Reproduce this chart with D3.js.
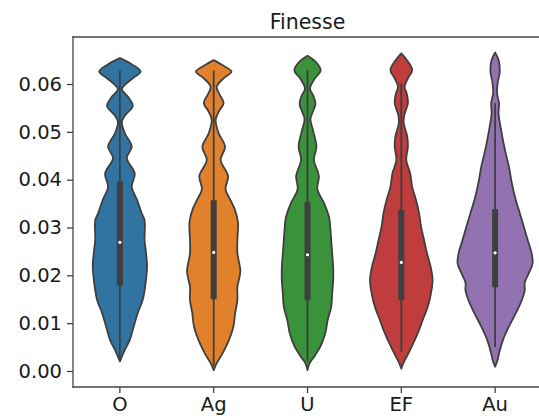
<!DOCTYPE html>
<html>
<head>
<meta charset="utf-8">
<script src="https://cdn.jsdelivr.net/npm/d3@7"></script>
<style>
  html, body { margin: 0; padding: 0; background: #fff; }
  svg { display: block; }
  text { font-family: "DejaVu Sans", sans-serif; fill: #1a1a1a; }
</style>
</head>
<body>
<svg id="chart" width="539" height="416"></svg>
<script>
// ---------- data ----------
const title = "Finesse";
const categories = ["O", "Ag", "U", "EF", "Au"];
const colors = ["#3274a1", "#e1812c", "#3a923a", "#c03d3e", "#9372b2"];
const yTicks = [0.00, 0.01, 0.02, 0.03, 0.04, 0.05, 0.06];

// density profiles: [value, relative density]
const profileO = [[0.0654,0],[0.0640,13],[0.0626,21],[0.0612,13],[0.0598,5],[0.0589,2],[0.0574,8],[0.0554,13],[0.0535,5.5],[0.0521,2],[0.0497,5],[0.0469,12],[0.0445,7],[0.0413,15],[0.0385,12],[0.0357,17.5],[0.0330,22],[0.0315,25],[0.0274,25],[0.0246,26.5],[0.0218,27.5],[0.0176,25.5],[0.0148,23],[0.0121,18],[0.0093,14],[0.0065,10],[0.0044,5],[0.0030,2],[0.0020,0]];
const profileAg = [[0.0650,0],[0.0638,10],[0.0626,18],[0.0612,10],[0.0594,3],[0.0578,6],[0.0560,10],[0.0542,5],[0.0525,2],[0.0497,5],[0.0469,11.5],[0.0441,7],[0.0408,14.5],[0.0380,12],[0.0357,17],[0.0340,21],[0.0312,24.5],[0.0274,24],[0.0246,24],[0.0208,27],[0.0176,24],[0.0148,24],[0.0121,21.7],[0.0093,20],[0.0065,15.5],[0.0037,9],[0.0016,3],[0.0002,0]];
const profileU = [[0.0659,0],[0.0645,9],[0.0628,13.3],[0.0612,7.5],[0.0590,2.5],[0.0575,6],[0.0558,8],[0.0540,5],[0.0527,3],[0.0500,6],[0.0469,9],[0.0441,6.5],[0.0408,11.5],[0.0380,10],[0.0350,17],[0.0320,22],[0.0302,23],[0.0274,24],[0.0246,25],[0.0218,26],[0.0190,26],[0.0162,25],[0.0134,24],[0.0107,20.5],[0.0079,18],[0.0051,13],[0.0030,6.7],[0.0016,2],[0.0002,0]];
const profileEF = [[0.0664,0],[0.0647,6.7],[0.0629,11],[0.0612,6.7],[0.0594,3.3],[0.0580,5.5],[0.0560,6.7],[0.0535,3],[0.0518,2.5],[0.0490,6],[0.0469,6.7],[0.0441,5],[0.0413,9],[0.0385,11],[0.0357,15],[0.0330,18],[0.0302,20],[0.0274,23],[0.0246,26],[0.0218,29.7],[0.0190,31.7],[0.0162,30],[0.0134,26.7],[0.0107,21.7],[0.0079,16.7],[0.0051,10.5],[0.0030,5.5],[0.0016,2],[0.0005,0]];
const profileAu = [[0.0666,0],[0.0650,3.5],[0.0626,4.7],[0.0601,2.5],[0.0580,2],[0.0560,4],[0.0539,3.5],[0.0497,6.7],[0.0462,10],[0.0427,14],[0.0392,17],[0.0357,21],[0.0330,25],[0.0302,29],[0.0274,33],[0.0246,37],[0.0225,38],[0.0204,34],[0.0185,30],[0.0169,30],[0.0148,27],[0.0121,21],[0.0093,14],[0.0065,8],[0.0037,4],[0.0023,2.5],[0.0009,0]];
const profiles = [profileO, profileAg, profileU, profileEF, profileAu];

// inner box statistics
const medians    = [0.0269, 0.0248, 0.0243, 0.0227, 0.0247];
const q1s        = [0.0178, 0.0150, 0.0148, 0.0148, 0.0175];
const q3s        = [0.0396, 0.0357, 0.0354, 0.0337, 0.0338];
const whiskerLow = [0.0020, 0.0010, 0.0020, 0.0040, 0.0050];
const whiskerHigh= [0.0628, 0.0628, 0.0629, 0.0601, 0.0560];

// ---------- layout ----------
const margin = {left: 73, top: 37, right: -3, bottom: 29};
const W = 539, H = 416;
const svg = d3.select("#chart");

const x = d3.scaleBand().domain(categories)
  .range([margin.left, W - margin.right]).padding(0);
const y = d3.scaleLinear().domain([-0.003345, 0.06983])
  .range([H - margin.bottom, margin.top]);

const maxDens = d3.max(profiles, p => d3.max(p, d => d[1]));
const w = d3.scaleLinear().domain([0, maxDens]).range([0, x.bandwidth() * 0.4]);

const edge = "#3f3f3f";

categories.forEach((c, i) => {
  const cx = x(c) + x.bandwidth() / 2;
  const area = d3.area()
    .y(d => y(d[0]))
    .x0(d => cx - w(d[1]))
    .x1(d => cx + w(d[1]))
    .curve(d3.curveCatmullRom.alpha(0.5));
  svg.append("path")
    .attr("d", area(profiles[i]))
    .attr("fill", colors[i])
    .attr("stroke", edge)
    .attr("stroke-width", 1.8)
    .attr("stroke-linejoin", "round");
  // whisker line
  svg.append("line")
    .attr("x1", cx).attr("x2", cx)
    .attr("y1", y(whiskerLow[i])).attr("y2", y(whiskerHigh[i]))
    .attr("stroke", edge).attr("stroke-width", 1.8);
  // IQR box
  svg.append("line")
    .attr("x1", cx).attr("x2", cx)
    .attr("y1", y(q1s[i])).attr("y2", y(q3s[i]))
    .attr("stroke", edge).attr("stroke-width", 6);
  // median
  svg.append("circle")
    .attr("cx", cx).attr("cy", y(medians[i])).attr("r", 1.6)
    .attr("fill", "#fff");
});

// axes
const yAxis = d3.axisLeft(y).tickValues(yTicks).tickFormat(d3.format(".2f"))
  .tickSize(6).tickPadding(5);
const gy = svg.append("g").attr("transform", `translate(${margin.left},0)`).call(yAxis);
gy.select(".domain").remove();
gy.selectAll(".tick line").attr("stroke", "#333").attr("stroke-width", 1.2);
gy.selectAll(".tick text").attr("font-size", 19.5).attr("font-family", "DejaVu Sans").attr("fill", "#1a1a1a");

const xAxis = d3.axisBottom(x).tickSize(6).tickPadding(4);
const gx = svg.append("g").attr("transform", `translate(0,${H - margin.bottom})`).call(xAxis);
gx.select(".domain").remove();
gx.selectAll(".tick line").attr("stroke", "#333").attr("stroke-width", 1.2);
gx.selectAll(".tick text").attr("font-size", 19.5).attr("font-family", "DejaVu Sans").attr("fill", "#1a1a1a");

// spines
const spine = {stroke: "#444", sw: 1.3};
const x0 = margin.left, x1 = W - margin.right, yTop = margin.top, yBot = H - margin.bottom;
[[x0, yTop, x0, yBot], [x0, yTop, x1, yTop], [x0, yBot, x1, yBot], [x1, yTop, x1, yBot]].forEach(s => {
  svg.append("line").attr("x1", s[0]).attr("y1", s[1]).attr("x2", s[2]).attr("y2", s[3])
    .attr("stroke", spine.stroke).attr("stroke-width", spine.sw).attr("stroke-linecap", "square");
});

// title
svg.append("text")
  .attr("x", (x0 + x1) / 2).attr("y", 29)
  .attr("text-anchor", "middle")
  .attr("font-size", 20.5)
  .text(title);
</script>
</body>
</html>
